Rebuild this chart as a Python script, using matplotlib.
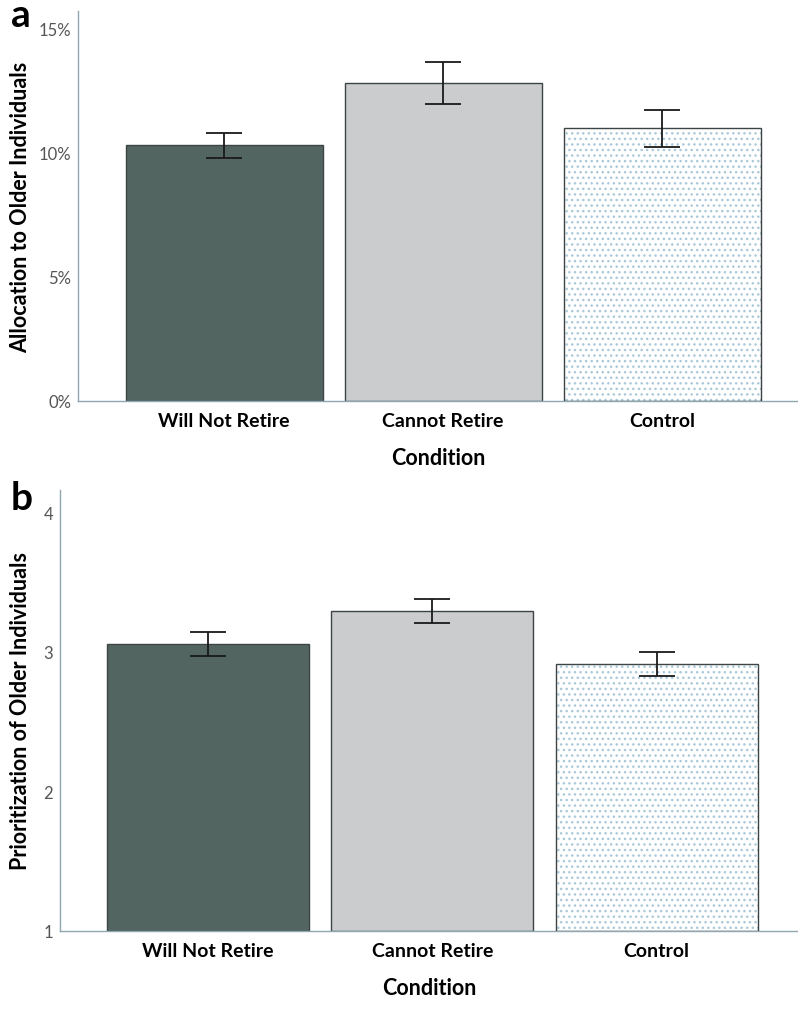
import matplotlib.pyplot as plt
import numpy as np

plt.rcParams['font.family'] = ['Lato', 'DejaVu Sans']
plt.rcParams['hatch.linewidth'] = 1.0

conditions = ['Will Not Retire', 'Cannot Retire', 'Control']

# panel a: allocation (%)
alloc_mean = [10.3, 12.8, 10.97]
alloc_err = [0.5, 0.85, 0.75]

# panel b: prioritization (1-4 scale)
prio_mean = [3.06, 3.29, 2.91]
prio_err = [0.086, 0.086, 0.086]

face = ['#536560', '#cbcccd', 'white']
edge = '#3c4446'
spine_col = '#8fa8b0'

fig = plt.figure(figsize=(7.98, 10.2), dpi=100)


def panel(rect, means, errs, ylim, yticks, yticklabels, ylabel, xlim, ylab_x, letter, letter_xy):
    ax = fig.add_axes(rect)
    x = np.arange(len(conditions))
    bottom = ylim[0]
    heights = [m - bottom for m in means]
    for i in range(len(x)):
        if i == 2:
            ax.bar(x[i], heights[i], 0.9, bottom=bottom, color='white',
                   edgecolor='#aac8d8', hatch='...', linewidth=0, zorder=2)
            ax.bar(x[i], heights[i], 0.9, bottom=bottom, fill=False,
                   edgecolor=edge, linewidth=1.0, zorder=3)
        else:
            ax.bar(x[i], heights[i], 0.9, bottom=bottom, color=face[i],
                   edgecolor=edge, linewidth=1.0, zorder=2)
    ax.errorbar(x, means, yerr=errs, fmt='none', ecolor='#1a1a1a',
                elinewidth=1.3, capsize=13, capthick=1.3, zorder=4)
    ax.set_xlim(*xlim)
    ax.set_ylim(*ylim)
    ax.set_yticks(yticks)
    ax.set_yticklabels(yticklabels, fontsize=12, color='#555555')
    ax.set_xticks(x)
    ax.set_xticklabels(conditions, fontsize=14, fontweight='bold')
    ax.tick_params(length=0, axis='x', pad=8)
    ax.tick_params(length=0, axis='y', pad=5)
    for s in ['top', 'right']:
        ax.spines[s].set_visible(False)
    for s in ['left', 'bottom']:
        ax.spines[s].set_color(spine_col)
        ax.spines[s].set_linewidth(1.0)
    ax.set_ylabel(ylabel, fontsize=15.5, fontweight='bold')
    ax.yaxis.set_label_coords(ylab_x, 0.5)
    ax.set_xlabel('Condition', fontsize=15.5, fontweight='bold', labelpad=13)
    fig.text(letter_xy[0], letter_xy[1], letter, fontsize=28, fontweight='bold',
             ha='left', va='center')
    return ax


panel([78 / 798, 1 - 402 / 1020, 1 - 78 / 798, 390 / 1020],
      alloc_mean, alloc_err, (0, 15.7), [0, 5, 10, 15],
      ['0%', '5%', '10%', '15%'], 'Allocation to Older Individuals',
      (-0.667, 2.62), -0.065, 'a', (11 / 798, 1 - 16 / 1020))

panel([60 / 798, 1 - 932 / 1020, 1 - 60 / 798, 441 / 1020],
      prio_mean, prio_err, (1, 4.16), [1, 2, 3, 4],
      ['1', '2', '3', '4'], 'Prioritization of Older Individuals',
      (-0.66, 2.63), -0.039, 'b', (11 / 798, 1 - 498 / 1020))

fig.savefig('out.png', dpi=100)
